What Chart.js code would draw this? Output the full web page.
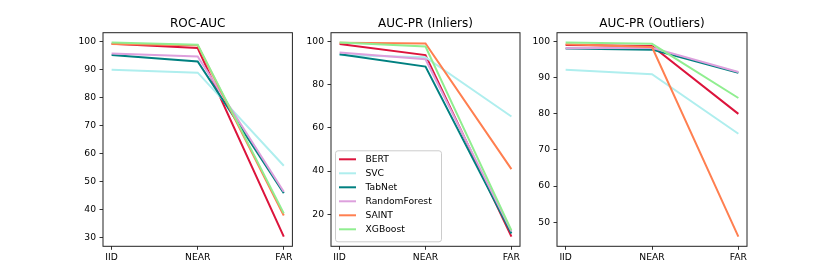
<!DOCTYPE html>
<html>
<head>
<meta charset="utf-8">
<script src="https://cdn.jsdelivr.net/npm/chart.js@4.4.1/dist/chart.umd.min.js"></script>
<style>
  body { margin: 0; background: #fff; }
  #wrap { position: relative; width: 830px; height: 277px; overflow: hidden; }
  #wrap canvas { position: absolute; top: 0; }
</style>
</head>
<body>
<div id="wrap">
  <canvas id="c1"></canvas>
  <canvas id="c2"></canvas>
  <canvas id="c3"></canvas>
</div>
<script>
// Data
const categories = ["IID", "NEAR", "FAR"];
const models = ["BERT", "SVC", "TabNet", "RandomForest", "SAINT", "XGBoost"];
const colors = ["#dc143c", "#afeeee", "#008080", "#dda0dd", "#ff7f50", "#90ee90"];

// ROC-AUC
const rocBert = [99.3, 97.8, 30.5];
const rocSvc = [90.0, 89.0, 55.8];
const rocTabnet = [95.3, 93.0, 46.0];
const rocForest = [95.8, 94.8, 46.5];
const rocSaint = [99.2, 98.8, 38.0];
const rocXgb = [99.8, 99.0, 38.8];

// AUC-PR (Inliers)
const inBert = [99.0, 93.8, 9.6];
const inSvc = [93.8, 92.8, 65.3];
const inTabnet = [94.2, 88.5, 11.0];
const inForest = [95.0, 91.9, 12.0];
const inSaint = [99.5, 99.2, 40.9];
const inXgb = [99.7, 97.8, 12.5];

// AUC-PR (Outliers)
const outBert = [99.1, 98.8, 80.0];
const outSvc = [92.2, 91.0, 74.5];
const outTabnet = [98.1, 97.8, 91.4];
const outForest = [98.2, 98.3, 91.6];
const outSaint = [99.3, 98.5, 46.0];
const outXgb = [99.8, 99.4, 84.4];

const FONT = "DejaVu Sans";
const TICK_SIZE = 9.2;
const Y_AXIS_W = 50;
const X_AXIS_H = 30.7;
const PLOT_TOP = 32.7;

// frame (four spines) + title centred over the plot box
const framePlugin = {
    id: "frame",
    afterDraw(chart, args, opts) {
        const a = chart.chartArea;
        const ctx = chart.ctx;
        ctx.save();
        ctx.strokeStyle = "#222";
        ctx.lineWidth = 1;
        ctx.strokeRect(a.left, a.top, a.right - a.left, a.bottom - a.top);
        ctx.fillStyle = "#000";
        ctx.font = "12px '" + FONT + "'";
        ctx.textAlign = "center";
        ctx.textBaseline = "alphabetic";
        ctx.fillText(opts.text, (a.left + a.right) / 2, 27.3);
        ctx.restore();
    }
};

// legend box inside the plot, lower left (only on the middle panel)
const boxLegend = {
    id: "boxLegend",
    afterDraw(chart, args, opts) {
        if (!opts.show) return;
        const a = chart.chartArea;
        const ctx = chart.ctx;
        const rowH = 14;
        const x0 = a.left + 4.5;
        const w = 106;
        const h = rowH * models.length + 7;
        const y0 = a.bottom - 4.5 - h;
        ctx.save();
        ctx.fillStyle = "rgba(255,255,255,0.85)";
        ctx.strokeStyle = "#cccccc";
        ctx.lineWidth = 1;
        ctx.beginPath();
        ctx.roundRect(x0, y0, w, h, 2.5);
        ctx.fill();
        ctx.stroke();
        ctx.font = TICK_SIZE + "px '" + FONT + "'";
        ctx.textBaseline = "middle";
        chart.data.datasets.forEach((ds, i) => {
            const cy = y0 + 8.5 + i * rowH;
            ctx.strokeStyle = ds.borderColor;
            ctx.lineWidth = 2;
            ctx.beginPath();
            ctx.moveTo(x0 + 3.5, cy);
            ctx.lineTo(x0 + 20.5, cy);
            ctx.stroke();
            ctx.fillStyle = "#000";
            ctx.fillText(ds.label, x0 + 30, cy);
        });
        ctx.restore();
    }
};

function makePanel(id, title, series, step, frameLeft, frameRight, legend) {
    const all = series.flat();
    const lo = Math.min(...all), hi = Math.max(...all);
    const pad = (hi - lo) * 0.05;
    const yMin = lo - pad, yMax = hi + pad;

    const canvas = document.getElementById(id);
    const width = Math.round(frameRight - frameLeft) + Y_AXIS_W + 12;
    canvas.width = width;
    canvas.height = 277;
    canvas.style.left = (frameLeft - Y_AXIS_W) + "px";

    const datasets = series.map((vals, i) => ({
        label: models[i],
        data: vals.map((v, j) => ({ x: j, y: v })),
        borderColor: colors[i],
        backgroundColor: colors[i],
        borderWidth: 2,
        pointRadius: 0,
        tension: 0,
        order: series.length - i
    }));

    return new Chart(canvas.getContext("2d"), {
        type: "line",
        data: { datasets },
        plugins: [framePlugin, boxLegend],
        options: {
            responsive: false,
            animation: false,
            devicePixelRatio: 1,
            layout: { padding: { left: 0, right: width - Y_AXIS_W - (frameRight - frameLeft), top: PLOT_TOP, bottom: 0 } },
            plugins: {
                legend: { display: false },
                tooltip: { enabled: false },
                title: { display: false },
                frame: { text: title },
                boxLegend: { show: legend }
            },
            scales: {
                x: {
                    type: "linear",
                    min: -0.1,
                    max: 2.1,
                    afterBuildTicks: s => { s.ticks = categories.map((c, j) => ({ value: j })); },
                    afterFit: s => { s.height = X_AXIS_H; },
                    ticks: {
                        color: "#000",
                        padding: 2.5,
                        maxRotation: 0,
                        font: { family: FONT, size: TICK_SIZE },
                        callback: v => categories[v]
                    },
                    grid: { drawOnChartArea: false, tickLength: 3.5, tickColor: "#000", tickWidth: 0.8 },
                    border: { display: false }
                },
                y: {
                    min: yMin,
                    max: yMax,
                    afterBuildTicks: s => {
                        const t = [];
                        for (let v = Math.ceil(yMin / step) * step; v <= yMax; v += step) t.push({ value: v });
                        s.ticks = t;
                    },
                    afterFit: s => { s.width = Y_AXIS_W; },
                    ticks: {
                        color: "#000",
                        padding: 3.5,
                        font: { family: FONT, size: TICK_SIZE }
                    },
                    grid: { drawOnChartArea: false, tickLength: 3.5, tickColor: "#000", tickWidth: 0.8 },
                    border: { display: false }
                }
            }
        }
    });
}

makePanel("c1", "ROC-AUC", [rocBert, rocSvc, rocTabnet, rocForest, rocSaint, rocXgb], 10, 103.3, 292.7, false);
makePanel("c2", "AUC-PR (Inliers)", [inBert, inSvc, inTabnet, inForest, inSaint, inXgb], 20, 331, 520, true);
makePanel("c3", "AUC-PR (Outliers)", [outBert, outSvc, outTabnet, outForest, outSaint, outXgb], 10, 557.3, 747.3, false);
</script>
</body>
</html>
